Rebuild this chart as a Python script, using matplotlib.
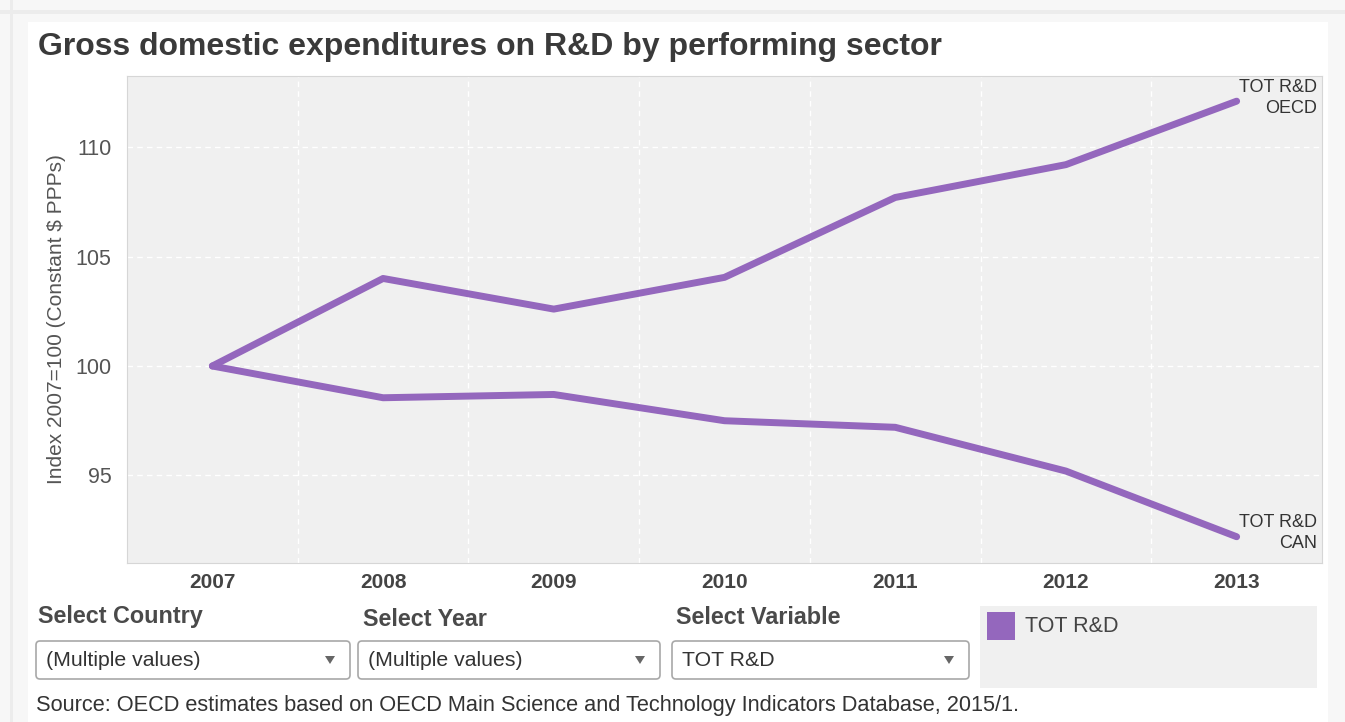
import matplotlib.pyplot as plt
from matplotlib.patches import Rectangle, FancyBboxPatch, Polygon

plt.rcParams['font.family'] = ['Liberation Sans', 'DejaVu Sans']

years = [2007, 2008, 2009, 2010, 2011, 2012, 2013]
oecd = [100.0, 104.0, 102.6, 104.05, 107.7, 109.2, 112.1]
can = [100.0, 98.55, 98.7, 97.5, 97.2, 95.2, 92.2]
series_labels = ["TOT R&D\nOECD", "TOT R&D\nCAN"]
y_ticks = [95, 100, 105, 110]

title = "Gross domestic expenditures on R&D by performing sector"
y_label = "Index 2007=100 (Constant $ PPPs)"
filters = [("Select Country", "(Multiple values)"),
           ("Select Year", "(Multiple values)"),
           ("Select Variable", "TOT R&D")]
legend_label = "TOT R&D"
source = "Source: OECD estimates based on OECD Main Science and Technology Indicators Database, 2015/1."

purple = "#9467bd"
W, H = 1345, 722

fig = plt.figure(figsize=(W / 100, H / 100), dpi=100)
fig.patch.set_facecolor("#f7f7f7")

# dashboard chrome drawn on a full-figure axes in pixel units
ui = fig.add_axes([0, 0, 1, 1], zorder=0)
ui.set_xlim(0, W)
ui.set_ylim(H, 0)
ui.axis("off")
ui.add_patch(Rectangle((0, 10), W, 4, color="#ececec", lw=0))
ui.add_patch(Rectangle((10, 0), 3, H, color="#ececec", lw=0))
ui.add_patch(Rectangle((28, 22), 1300, H, color="white", lw=0))

ui.text(38, 47, title, fontsize=23, fontweight="bold", color="#3a3a3a",
        va="center", ha="left")

# filter dropdowns
boxes = [(36, 350, 38, 617), (358, 660, 363, 619), (672, 969, 676, 617)]
for (head, value), (x0, x1, lx, ly) in zip(filters, boxes):
    ui.text(lx, ly, head, fontsize=16.8, fontweight="bold", color="#4a4a4a",
            va="center", ha="left")
    ui.add_patch(FancyBboxPatch((x0, 641), x1 - x0, 38,
                                boxstyle="round,pad=0,rounding_size=4",
                                fc="white", ec="#a8a8a8", lw=1.2))
    ui.text(x0 + 10, 660, value, fontsize=15.3, color="#333333",
            va="center", ha="left")
    ax_ = x1 - 20
    ui.add_patch(Polygon([(ax_ - 5, 656), (ax_ + 5, 656), (ax_, 664)],
                         closed=True, color="#666666", lw=0))

# colour legend
ui.add_patch(Rectangle((980, 606), 337, 82, color="#f0f0f0", lw=0))
ui.add_patch(Rectangle((987, 612), 28, 28, color=purple, lw=0))
ui.text(1025, 627, legend_label, fontsize=15.5, color="#444444",
        va="center", ha="left")

ui.text(36, 705, source, fontsize=15.7, color="#333333", va="center", ha="left")

# line chart
ax = fig.add_axes([127 / W, 1 - 563 / H, (1322 - 127) / W, (563 - 76) / H],
                  zorder=1)
ax.set_facecolor("#f0f0f0")
ax.plot(years, oecd, color=purple, lw=5, solid_capstyle="round",
        solid_joinstyle="round")
ax.plot(years, can, color=purple, lw=5, solid_capstyle="round",
        solid_joinstyle="round")
ax.set_xlim(2006.5, 2013.5)
ax.set_ylim(91.0, 113.25)
ax.set_yticks(y_ticks)
ax.set_xticks(years)
ax.set_xticks([y + 0.5 for y in years[:-1]], minor=True)
ax.grid(True, which="major", axis="y", color="white", ls=(0, (4, 3)), lw=1)
ax.grid(True, which="minor", axis="x", color="white", ls=(0, (4, 3)), lw=1)
ax.tick_params(which="both", length=0)
ax.tick_params(axis="y", labelsize=15.5, labelcolor="#555555", pad=11)
ax.tick_params(axis="x", labelsize=15, labelcolor="#444444", pad=7)
for lab in ax.get_xticklabels():
    lab.set_fontweight("bold")
for s in ax.spines.values():
    s.set_color("#d6d6d6")
ax.set_ylabel(y_label, fontsize=15, color="#555555", labelpad=7)

# end-of-line labels, right-aligned inside the plot
for text, vals in zip(series_labels, [oecd, can]):
    ax.annotate(text, xy=(0.996, vals[-1]), xycoords=("axes fraction", "data"),
                xytext=(0, 2.5), textcoords="offset points",
                ha="right", va="center", fontsize=13, color="#333333",
                linespacing=1.3, multialignment="right")

fig.savefig("out.png", dpi=100, facecolor=fig.get_facecolor())
